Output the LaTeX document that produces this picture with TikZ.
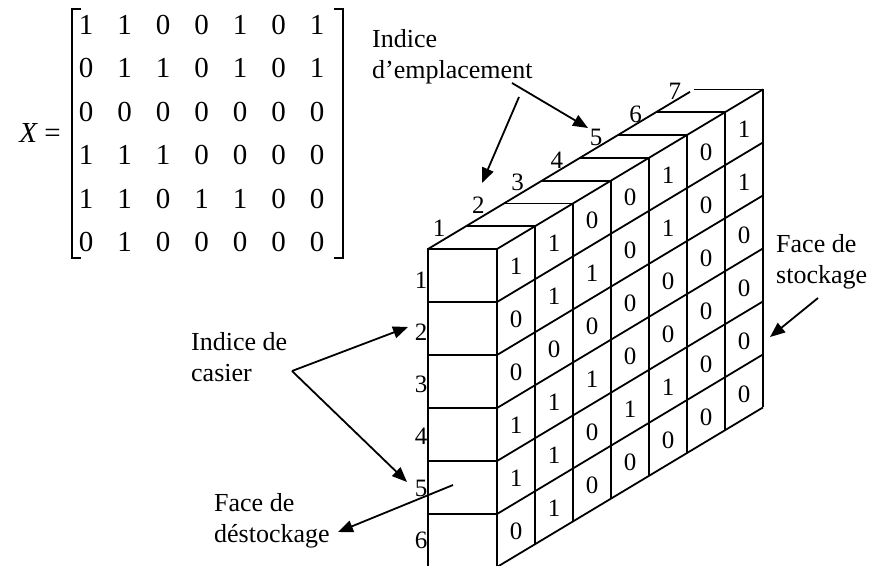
\documentclass[tikz,border=0pt]{standalone}
\usepackage{fontspec}
\setmainfont{Liberation Serif}
\usetikzlibrary{arrows.meta}
\begin{document}
\begin{tikzpicture}[x=1pt,y=-1pt,
  gridline/.style={line width=1.8pt},
  bracket/.style={line width=1.1pt},
  lbl/.style={font=\fontsize{26}{31}\selectfont, align=left, inner sep=0pt},
  dig/.style={font=\fontsize{25}{30}\selectfont, inner sep=0pt},
  mdig/.style={font=\fontsize{29}{30}\selectfont, inner sep=0pt},
  arr/.style={line width=1.8pt, -{Triangle[length=15pt,width=12pt]}}]
\useasboundingbox (0,0) rectangle (872,565);
\clip (0,0) rectangle (872,565);

% ---- matrix X ----
\node[mdig] (Xeq) at (40,133) {{\itshape X} =};
\draw[bracket] (81,9) -- (72,9) -- (72,258) -- (81,258);
\draw[bracket] (334,9) -- (343,9) -- (343,258) -- (334,258);
\foreach \r [count=\i] in {{1,1,0,0,1,0,1},{0,1,1,0,1,0,1},{0,0,0,0,0,0,0},{1,1,1,0,0,0,0},{1,1,0,1,1,0,0},{0,1,0,0,0,0,0}}{
  \foreach \v [count=\j] in \r {
    \node[mdig] (m-\i-\j) at ({86+38.5*(\j-1)},{25+43.4*(\i-1)}) {\v};
  }
}

% ---- 3D storage block ----
% front face
\draw[gridline] (428,249) rectangle (497,567);
\foreach \i in {1,...,5} \draw[gridline] (428,{249+53*\i}) -- (497,{249+53*\i});
% side face verticals
\foreach \j in {0,...,7} \draw[gridline] ({497+38*\j},{249-22.8*\j}) -- ++(0,318);
% side face row lines
\foreach \i in {0,...,6} \draw[gridline] (497,{249+53*\i}) -- ++(266,-159.6);
% top face
\draw[gridline] (428,249) -- ++(262,-157.2);
\foreach \j in {1,...,7} \draw[gridline] ({428+38*\j},{249-22.8*\j}) -- ++(69,0);

% side face values (columns of X)
\foreach \r [count=\i] in {{1,1,0,0,1,0,1},{0,1,1,0,1,0,1},{0,0,0,0,0,0,0},{1,1,1,0,0,0,0},{1,1,0,1,1,0,0},{0,1,0,0,0,0,0}}{
  \foreach \v [count=\j] in \r {
    \node[dig] (g-\i-\j) at ({497+38*(\j-0.5)},{249-22.8*(\j-0.5)+53*(\i-0.5)+2}) {\v};
  }
}

% emplacement indices
\foreach \j in {1,...,7} \node[dig] (e-\j) at ({439+39.3*(\j-1)},{228-22.7*(\j-1)}) {\j};
% casier indices
\foreach \i in {1,...,6} \node[dig] (c-\i) at (421,{280+52*(\i-1)}) {\i};

% ---- labels ----
\node[lbl, anchor=west] (ie) at (372,57) {Indice\\d’emplacement};
\node[lbl, anchor=west] (ic) at (191,357) {Indice de\\casier};
\node[lbl, anchor=west] (fd) at (214,521) {Face de\\déstockage};
\node[lbl, anchor=west] (fs) at (776,262) {Face de\\stockage};

% ---- arrows ----
\coordinate (ie-a) at (512,83);  \coordinate (ie-at) at (588,128);
\coordinate (ie-b) at (519,97);  \coordinate (ie-bt) at (482,183);
\coordinate (ic-o) at (292,371); \coordinate (ic-t1) at (408,327); \coordinate (ic-t2) at (407,482);
\coordinate (fd-o) at (453,485); \coordinate (fd-t) at (338,532);
\coordinate (fs-o) at (818,298); \coordinate (fs-t) at (770,337);

\draw[arr] (ie-a) -- (ie-at);
\draw[arr] (ie-b) -- (ie-bt);
\draw[arr] (ic-o) -- (ic-t1);
\draw[arr] (ic-o) -- (ic-t2);
\draw[arr] (fd-o) -- (fd-t);
\draw[arr] (fs-o) -- (fs-t);
\end{tikzpicture}
\end{document}
